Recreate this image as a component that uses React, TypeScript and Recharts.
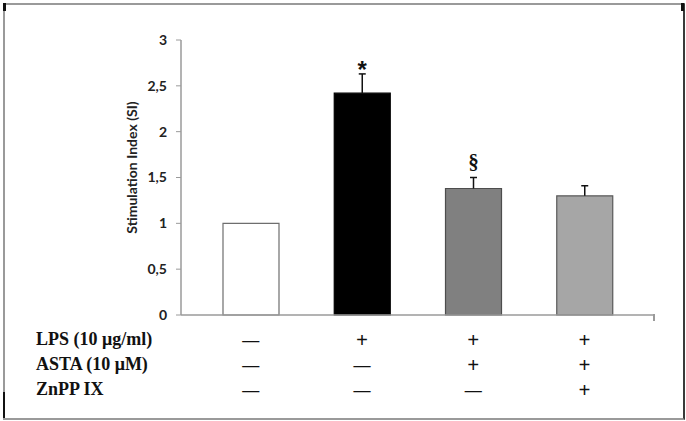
import React from 'react'
import { BarChart, Bar, XAxis, YAxis, Cell, LabelList } from 'recharts'

const groups = ['Control', 'LPS', 'LPS + ASTA', 'LPS + ASTA + ZnPP IX']
const siValues = [1.0, 2.42, 1.38, 1.3]
const siErrors = [0, 0.21, 0.12, 0.11]
const marks = ['', '*', '§', '']
const barFills = ['#ffffff', '#000000', '#808080', '#a6a6a6']
const barStrokes = ['#6e6e6e', '#000000', '#4d4d4d', '#5a5a5a']
const yTicks = [0, 0.5, 1, 1.5, 2, 2.5, 3]

const rowLabels = ['LPS (10 μg/ml)', 'ASTA (10 μM)', 'ZnPP IX']
const lpsRow = ['—', '+', '+', '+']
const astaRow = ['—', '—', '+', '+']
const znppRow = ['—', '—', '—', '+']
const treatmentRows = [lpsRow, astaRow, znppRow]

const data = groups.map((g, i) => ({
  name: g,
  si: siValues[i],
  err: siErrors[i],
  mark: marks[i],
}))

const serif = '"Liberation Serif", "Times New Roman", serif'
const sans = 'Lato, "Open Sans", sans-serif'

// three rows of +/- symbols under each bar
const TreatmentTick = (props: any) => {
  const { x, y, payload } = props
  const idx = payload.index
  return (
    <g>
      {treatmentRows.map((row, r) => (
        <text
          key={r}
          x={x}
          y={y + 17 + r * 25}
          textAnchor="middle"
          dominantBaseline="central"
          fontFamily={serif}
          fontWeight="bold"
          fontSize={row[idx] === '+' ? 21 : 17}
          fill="#111"
        >
          {row[idx]}
        </text>
      ))}
    </g>
  )
}

// upward-only error whisker, scaled from the bar's own pixel height
const Whisker = (props: any) => {
  const { x, y, width, height, index } = props
  const err = siErrors[index]
  if (!err) return null
  const cx = x + width / 2
  const top = y - err * (height / siValues[index])
  return (
    <g stroke="#111" strokeWidth={1.5}>
      <line x1={cx} y1={y} x2={cx} y2={top} />
      <line x1={cx - 3.5} y1={top} x2={cx + 3.5} y2={top} />
    </g>
  )
}

const MarkLabel = (props: any) => {
  const { x, y, width, height, index, value } = props
  if (!value) return null
  const top = y - siErrors[index] * (height / siValues[index])
  if (value === '*') {
    return (
      <text
        x={x + width / 2}
        y={top + 4}
        textAnchor="middle"
        fontFamily='"Liberation Sans", Arial, sans-serif'
        fontWeight="bold"
        fontSize={24}
        fill="#111"
      >
        {value}
      </text>
    )
  }
  return (
    <text
      x={x + width / 2}
      y={top - 16}
      textAnchor="middle"
      dominantBaseline="central"
      fontFamily={serif}
      fontWeight="bold"
      fontSize={21}
      fill="#111"
    >
      {value}
    </text>
  )
}

const YLabel = (props: any) => {
  const vb = props.viewBox
  const cy = vb.y + vb.height / 2 - 10
  return (
    <text
      x={131}
      y={cy}
      transform={`rotate(-90, 131, ${cy})`}
      textAnchor="middle"
      dominantBaseline="central"
      fontFamily={sans}
      fontWeight="bold"
      fontSize={14}
      fill="#222"
    >
      Stimulation Index (SI)
    </text>
  )
}

export default function App() {
  return (
    <div style={{ position: 'absolute', left: 0, top: 0, width: 686, height: 421, background: '#fff' }}>
      {/* outer frame */}
      <div
        style={{
          position: 'absolute',
          left: 3,
          top: 3,
          width: 678,
          height: 413,
          borderTop: '2px solid #9a9a9a',
          borderLeft: '2px solid #9a9a9a',
          borderBottom: '2px solid #9a9a9a',
          borderRight: '2px solid #3a3a3a',
        }}
      />
      <div style={{ position: 'absolute', left: 3, top: 3, width: 3, height: 8, background: '#111' }} />
      <div style={{ position: 'absolute', left: 3, top: 392, width: 2, height: 26, background: '#111' }} />
      <div style={{ position: 'absolute', left: 681, top: 3, width: 3, height: 8, background: '#111' }} />

      <div style={{ position: 'absolute', left: 0, top: 0 }}>
        <BarChart
          width={686}
          height={421}
          data={data}
          margin={{ top: 40, right: 32, bottom: 86, left: 121 }}
        >
          <XAxis
            dataKey="name"
            axisLine={{ stroke: '#9a9a9a', strokeWidth: 1.5 }}
            tickLine={false}
            tick={<TreatmentTick />}
            interval={0}
            height={20}
            padding={{ left: 14, right: 14 }}
          />
          <YAxis
            domain={[0, 3]}
            ticks={yTicks}
            width={60}
            tickSize={5}
            tickMargin={9}
            axisLine={{ stroke: '#9a9a9a', strokeWidth: 1.5 }}
            tickLine={{ stroke: '#9a9a9a' }}
            tickFormatter={(v: number) => String(v).replace('.', ',')}
            tick={{ fontFamily: sans, fontSize: 14, fontWeight: 'bold', fill: '#222' }}
            label={<YLabel />}
          />
          <Bar dataKey="si" barSize={56} isAnimationActive={false}>
            {data.map((d, i) => (
              <Cell key={d.name} fill={barFills[i]} stroke={barStrokes[i]} strokeWidth={1.2} />
            ))}
            <LabelList dataKey="err" content={<Whisker />} />
            <LabelList dataKey="mark" content={<MarkLabel />} />
          </Bar>
        </BarChart>
      </div>

      {/* right end tick of the category axis */}
      <div style={{ position: 'absolute', left: 653, top: 314, width: 1.5, height: 7, background: '#9a9a9a' }} />

      {/* treatment row labels */}
      {rowLabels.map((t, i) => (
        <div
          key={t}
          style={{
            position: 'absolute',
            left: 36,
            top: 339 + i * 25 - 11,
            height: 22,
            lineHeight: '22px',
            fontFamily: serif,
            fontWeight: 'bold',
            fontSize: 18,
            color: '#111',
            whiteSpace: 'nowrap',
          }}
        >
          {t}
        </div>
      ))}
    </div>
  )
}
